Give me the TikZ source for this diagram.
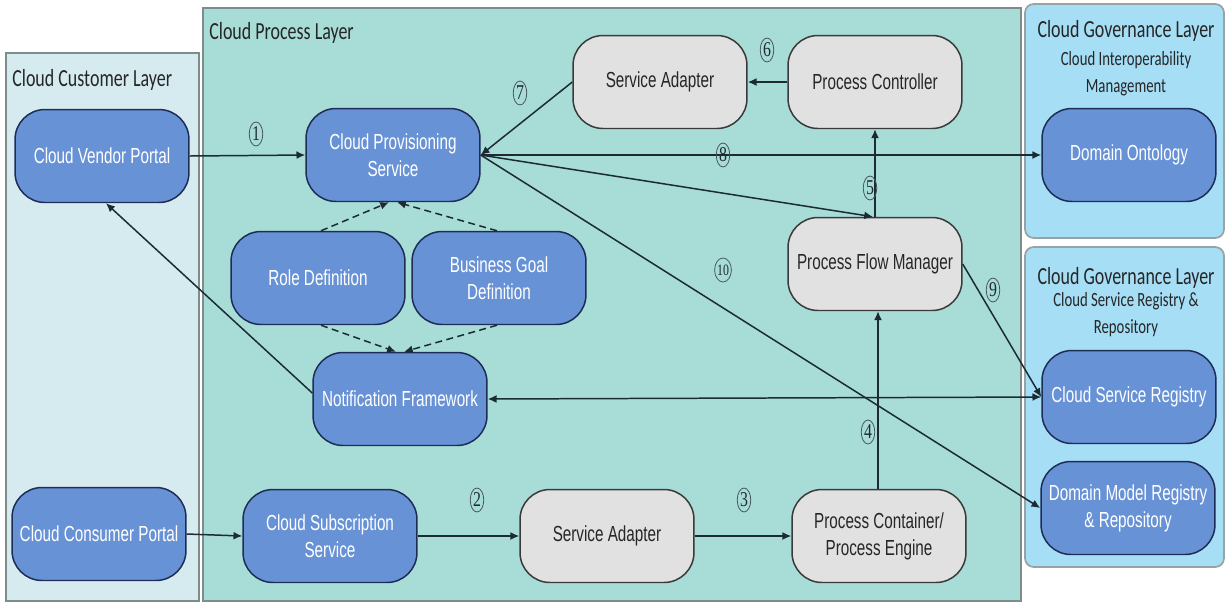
\documentclass[tikz,border=0pt]{standalone}
\usepackage{fontspec}
\setmainfont[FakeStretch=0.7]{Liberation Sans}
\newfontfamily\titlefont[FakeStretch=0.73]{Carlito}
\newfontfamily\numfont[FakeStretch=0.75]{Liberation Serif}
\usetikzlibrary{arrows.meta,shapes.geometric}

\definecolor{custbg}{HTML}{D6EBF0}
\definecolor{procbg}{HTML}{A8DCD6}
\definecolor{govbg}{HTML}{A6DEF6}
\definecolor{nodeblue}{HTML}{6892D6}
\definecolor{bluerim}{HTML}{1E2D55}
\definecolor{nodegray}{HTML}{E1E1E1}
\definecolor{grayrim}{HTML}{3A3A3A}
\definecolor{linecol}{HTML}{1C2B33}
\definecolor{layerrim}{HTML}{7F8C8C}

\tikzset{
  layer/.style={draw=layerrim, line width=1pt},
  govlayer/.style={draw=layerrim!80, line width=1pt, fill=govbg, rounded corners=5pt},
  boxbase/.style={rounded corners=0.6cm, minimum width=3.48cm, minimum height=1.86cm,
    align=center, line width=0.85pt, inner sep=2pt,
    font=\fontsize{12.4}{15.5}\selectfont},
  bluebox/.style={boxbase, draw=bluerim, fill=nodeblue, text=white},
  graybox/.style={boxbase, draw=grayrim, fill=nodegray, text=black!85},
  flow/.style={draw=linecol, line width=0.85pt, -{Latex[length=5pt,width=4.5pt]}},
  twoway/.style={draw=linecol, line width=0.85pt, {Latex[length=5pt,width=4.5pt]}-{Latex[length=5pt,width=4.5pt]}},
  dflow/.style={draw=linecol, line width=0.85pt, dash pattern=on 4pt off 2.5pt, -{Latex[length=5pt,width=4.5pt]}},
  layertitle/.style={font=\titlefont\fontsize{14}{16}\selectfont, text=black!85, inner sep=0pt},
  layersub/.style={font=\titlefont\fontsize{11.5}{13}\selectfont, text=black!85, inner sep=0pt},
  stepno/.style={ellipse, draw=linecol!80, line width=0.45pt, minimum width=0.27cm, minimum height=0.48cm,
    inner sep=0pt, text=linecol, font=\numfont\fontsize{12}{12}\selectfont}
}

\begin{document}
\begin{tikzpicture}[x=0.02cm, y=-0.02cm]
\useasboundingbox (0,0) rectangle (1225,603);

% layer panels
\draw[layer, fill=custbg] (6,53) rectangle (199,601);
\draw[layer, fill=procbg] (203,8) rectangle (1021,601);
\draw[govlayer] (1025,4) rectangle (1224,238);
\draw[govlayer] (1025,247) rectangle (1224,567);

\node[layertitle, anchor=west] (custT) at (12,80) {Cloud Customer Layer};
\node[layertitle, anchor=west] (procT) at (209,33) {Cloud Process Layer};
\node[layertitle] (govT1) at (1126,31) {Cloud Governance Layer};
\node[layersub] (govS1a) at (1126,60) {Cloud Interoperability};
\node[layersub] (govS1b) at (1126,88) {Management};
\node[layertitle] (govT2) at (1126,278) {Cloud Governance Layer};
\node[layersub] (govS2a) at (1126,301) {Cloud Service Registry \&};
\node[layersub] (govS2b) at (1126,328) {Repository};

% customer layer
\node[bluebox] (vendor) at (102,156) {Cloud Vendor Portal};
\node[bluebox] (consumer) at (99,534) {Cloud Consumer Portal};

% process layer
\node[bluebox] (prov) at (393,155) {Cloud Provisioning\\Service};
\node[bluebox] (role) at (318,278) {Role Definition};
\node[bluebox] (goal) at (499,278) {Business Goal\\Definition};
\node[bluebox] (notif) at (400,399) {Notification Framework};
\node[bluebox] (subs) at (330,536) {Cloud Subscription\\Service};
\node[graybox] (adaptB) at (607,536) {Service Adapter};
\node[graybox] (engine) at (879,536) {Process Container/\\Process Engine};
\node[graybox] (flowmgr) at (875,264) {Process Flow Manager};
\node[graybox] (ctrl) at (875,82) {Process Controller};
\node[graybox] (adaptT) at (660,82) {Service Adapter};

% governance layer
\node[bluebox] (onto) at (1129,155) {Domain Ontology};
\node[bluebox] (csr) at (1129,397) {Cloud Service Registry};
\node[bluebox] (dmr) at (1128,508) {Domain Model Registry\\\& Repository};

% connectors
\draw[flow] (vendor.east) -- (prov.west);
\draw[flow] (consumer.east) -- (subs.west);
\draw[flow] (subs.east) -- (adaptB.west);
\draw[flow] (adaptB.east) -- (engine.west);
\draw[flow] ([xshift=-0.02cm]engine.north) -- ([xshift=-0.02cm]engine.north |- flowmgr.south);
\draw[flow] (flowmgr.north) -- (flowmgr.north |- ctrl.south);
\draw[flow] (ctrl.west) -- (adaptT.east);
\draw[flow] (adaptT.west) -- (prov.east);
\draw[flow] (prov.east) -- (onto.west);
\draw[flow] (prov.east) -- ([xshift=-0.04cm]flowmgr.north);
\draw[flow] (prov.east) -- (dmr.west);
\draw[flow] (flowmgr.east) -- (csr.west);
\draw[twoway] (notif.east) -- (csr.west);
\draw[flow] ([yshift=0.12cm]notif.west) -- ([xshift=0.08cm]vendor.south);

\draw[dflow] ([xshift=0.06cm]role.north) -- ([xshift=-0.08cm]prov.south);
\draw[dflow] ([xshift=-0.04cm]goal.north) -- ([xshift=0.08cm]prov.south);
\draw[dflow] ([xshift=0.06cm]role.south) -- ([xshift=-0.08cm]notif.north);
\draw[dflow] ([xshift=-0.04cm]goal.south) -- ([xshift=0.08cm]notif.north);

% step numbers
\node[stepno] (n1) at (256,134) {1};
\node[stepno] (n2) at (477,500) {2};
\node[stepno] (n3) at (744,500) {3};
\node[stepno] (n4) at (868,432) {4};
\node[stepno] (n5) at (870,188) {5};
\node[stepno] (n6) at (767,50) {6};
\node[stepno] (n7) at (520,93) {7};
\node[stepno] (n8) at (723,155) {8};
\node[stepno] (n9) at (993,290) {9};
\node[stepno] (n10) at (723,270) {\fontsize{9}{9}\selectfont 10};
\end{tikzpicture}
\end{document}
